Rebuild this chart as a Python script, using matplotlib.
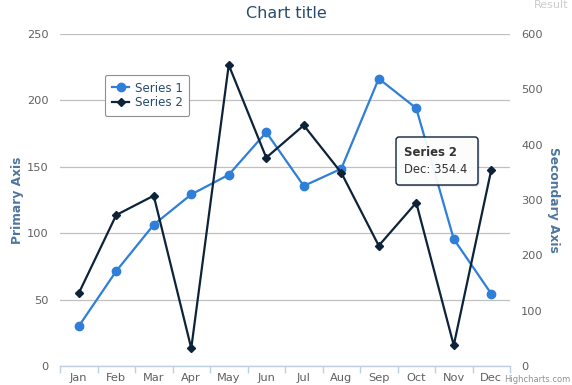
import matplotlib
matplotlib.use("Agg")
import matplotlib.pyplot as plt
from matplotlib.patches import FancyBboxPatch
from matplotlib.lines import Line2D

months = ["Jan", "Feb", "Mar", "Apr", "May", "Jun", "Jul", "Aug", "Sep", "Oct", "Nov", "Dec"]
series1 = [29.9, 71.5, 106.4, 129.2, 144.0, 176.0, 135.6, 148.5, 216.4, 194.1, 95.6, 54.4]
series2 = [131.4, 272.9, 307.8, 32.0, 544.0, 376.5, 435.0, 349.4, 217.4, 295.2, 37.4, 354.4]
primary_ticks = [0, 50, 100, 150, 200, 250]
secondary_ticks = [0, 100, 200, 300, 400, 500, 600]

W, H = 572, 385
fig = plt.figure(figsize=(W / 100, H / 100), dpi=100)
plt.rcParams['font.family'] = ['DejaVu Sans']

L, R, T, B = 60, 510, 34, 366
ax = fig.add_axes([L / W, (H - B) / H, (R - L) / W, (B - T) / H])
ax2 = ax.twinx()

x = list(range(len(months)))
c1 = "#2f7ed8"
c2 = "#0d233a"

ax.plot(x, series1, color=c1, lw=1.6, marker="o", ms=6, zorder=3)
ax2.plot(x, series2, color=c2, lw=1.6, marker="D", ms=4.2, zorder=3)

ax.set_xlim(-0.5, len(months) - 0.5)
ax.set_ylim(0, 250)
ax2.set_ylim(0, 600)
ax.set_yticks(primary_ticks)
ax2.set_yticks(secondary_ticks)
ax.set_xticks(x)
ax.set_xticklabels(months)
ax.set_xticks([i + 0.5 for i in range(-1, len(months))], minor=True)

for a in (ax, ax2):
    for s in a.spines.values():
        s.set_visible(False)
ax.spines['bottom'].set_visible(True)
ax.spines['bottom'].set_color("#C0D0E0")
ax.spines['bottom'].set_linewidth(1)

ax.grid(axis='y', color="#C0C0C0", lw=0.9)
ax.set_axisbelow(True)

lab_color = "#606060"
ax.tick_params(axis='y', length=0, pad=8, labelsize=8.2, labelcolor=lab_color)
ax2.tick_params(axis='y', length=0, pad=8, labelsize=8.2, labelcolor=lab_color)
ax.tick_params(axis='x', which='major', length=0, pad=5, labelsize=8.2, labelcolor=lab_color)
ax.tick_params(axis='x', which='minor', length=5, width=1, color="#C0D0E0")

title_c = "#4d759e"
ax.set_ylabel("Primary Axis", color=title_c, fontsize=8.8, fontweight='bold', labelpad=2.5)
ax2.set_ylabel("Secondary Axis", color=title_c, fontsize=8.8, fontweight='bold', rotation=270, labelpad=12)

fig.text(286 / W, 1 - 14 / H, "Chart title", ha='center', va='center', fontsize=11.5, color="#274b6d")

# legend
handles = [Line2D([], [], color=c1, lw=1.6, marker="o", ms=6),
           Line2D([], [], color=c2, lw=1.6, marker="D", ms=4.2)]
leg = fig.legend(handles, ["Series 1", "Series 2"], loc='upper left',
                 bbox_to_anchor=(105 / W, 1 - 75 / H), frameon=True, fontsize=8.6,
                 handlelength=1.5, handletextpad=0.45, borderpad=0.55, labelspacing=0.15,
                 borderaxespad=0, fancybox=True, edgecolor="#909090", framealpha=1)
leg.get_frame().set_linewidth(0.8)
for t in leg.get_texts():
    t.set_color("#274b6d")

# tooltip
tx0, ty0, tw, th = 396, 137, 82, 48
shadow = FancyBboxPatch((tx0 + 1.5, H - ty0 - th - 1.5), tw, th, boxstyle="round,pad=0,rounding_size=3",
                        transform=None, facecolor="#00000022", edgecolor='none', zorder=9)
box = FancyBboxPatch((tx0, H - ty0 - th), tw, th, boxstyle="round,pad=0,rounding_size=3",
                     transform=None, facecolor=(1, 1, 1, 0.93), edgecolor=c2, lw=1, zorder=10)
fig.patches.extend([shadow, box])
fig.text((tx0 + 8) / W, 1 - 153 / H, "Series 2", fontsize=8.4, fontweight='bold', color="#333333",
         va='center', ha='left', zorder=11)
fig.text((tx0 + 8) / W, 1 - 170 / H, "Dec: 354.4", fontsize=8.4, color="#333333",
         va='center', ha='left', zorder=11)

fig.text(568 / W, 1 - 5 / H, "Result", fontsize=8, color="#cccccc", ha='right', va='center')
fig.text(570 / W, 1 - 380 / H, "Highcharts.com", fontsize=6, color="#909090", ha='right', va='center')

fig.savefig("out.png", dpi=100)
